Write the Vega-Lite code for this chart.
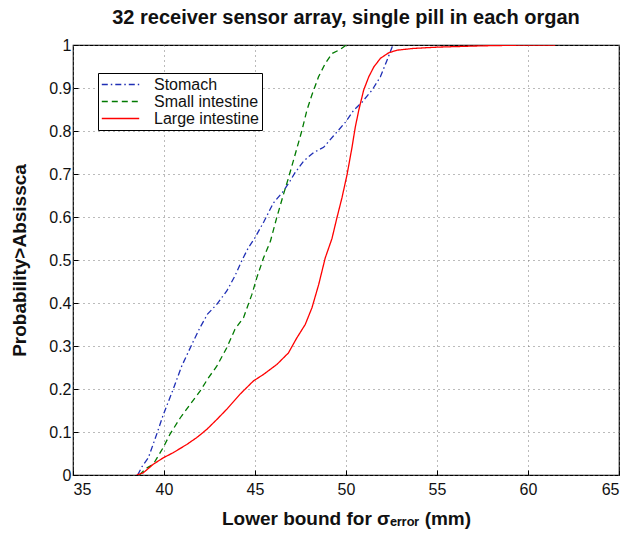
{
  "$schema": "https://vega.github.io/schema/vega-lite/v6.json",
  "autosize": "none",
  "width": 546,
  "height": 430,
  "padding": {"left": 73, "top": 45, "right": 9, "bottom": 59},
  "background": "white",
  "title": {"text": "32 receiver sensor array, single pill in each organ", "font": "Liberation Sans", "fontSize": 20, "fontWeight": "bold", "color": "#111", "offset": 9, "anchor": "middle"},
  "config": {
    "view": {"stroke": "#000", "strokeWidth": 1.2},
    "axis": {
      "labelFont": "Liberation Sans", "labelFontSize": 16, "labelColor": "#111",
      "titleFont": "Liberation Sans", "titleFontSize": 19, "titleFontWeight": "bold", "titleColor": "#111",
      "grid": true, "gridColor": "#777", "gridDash": [1, 4], "gridWidth": 1,
      "domain": false, "tickColor": "#000", "tickSize": -5, "tickWidth": 1, "labelPadding": 7
    }
  },
  "data": {"values": [
    {"s":"Stomach","x":38.55,"y":0},{"s":"Stomach","x":38.8,"y":0.02},{"s":"Stomach","x":39.14,"y":0.04},{"s":"Stomach","x":39.6,"y":0.095},{"s":"Stomach","x":39.96,"y":0.14},{"s":"Stomach","x":40.51,"y":0.2},{"s":"Stomach","x":40.97,"y":0.253},{"s":"Stomach","x":41.6,"y":0.31},{"s":"Stomach","x":41.98,"y":0.343},{"s":"Stomach","x":42.39,"y":0.374},{"s":"Stomach","x":42.9,"y":0.397},{"s":"Stomach","x":43.45,"y":0.428},{"s":"Stomach","x":43.9,"y":0.463},{"s":"Stomach","x":44.27,"y":0.498},{"s":"Stomach","x":44.64,"y":0.529},{"s":"Stomach","x":45.0,"y":0.552},{"s":"Stomach","x":45.5,"y":0.59},{"s":"Stomach","x":46.0,"y":0.632},{"s":"Stomach","x":46.56,"y":0.66},{"s":"Stomach","x":46.93,"y":0.684},{"s":"Stomach","x":47.2,"y":0.703},{"s":"Stomach","x":47.67,"y":0.73},{"s":"Stomach","x":48.22,"y":0.75},{"s":"Stomach","x":48.77,"y":0.762},{"s":"Stomach","x":49.32,"y":0.789},{"s":"Stomach","x":49.96,"y":0.82},{"s":"Stomach","x":50.42,"y":0.848},{"s":"Stomach","x":50.88,"y":0.867},{"s":"Stomach","x":51.43,"y":0.895},{"s":"Stomach","x":51.89,"y":0.926},{"s":"Stomach","x":52.26,"y":0.965},{"s":"Stomach","x":52.54,"y":0.996},{"s":"Stomach","x":52.7,"y":1.0},
    {"s":"Small intestine","x":38.65,"y":0},{"s":"Small intestine","x":39.0,"y":0.015},{"s":"Small intestine","x":39.41,"y":0.025},{"s":"Small intestine","x":39.96,"y":0.064},{"s":"Small intestine","x":40.33,"y":0.095},{"s":"Small intestine","x":40.88,"y":0.132},{"s":"Small intestine","x":41.43,"y":0.164},{"s":"Small intestine","x":41.98,"y":0.195},{"s":"Small intestine","x":42.44,"y":0.226},{"s":"Small intestine","x":42.9,"y":0.253},{"s":"Small intestine","x":43.45,"y":0.296},{"s":"Small intestine","x":43.9,"y":0.339},{"s":"Small intestine","x":44.37,"y":0.366},{"s":"Small intestine","x":44.83,"y":0.42},{"s":"Small intestine","x":45.1,"y":0.459},{"s":"Small intestine","x":45.47,"y":0.505},{"s":"Small intestine","x":45.85,"y":0.544},{"s":"Small intestine","x":46.19,"y":0.598},{"s":"Small intestine","x":46.56,"y":0.652},{"s":"Small intestine","x":46.84,"y":0.691},{"s":"Small intestine","x":47.21,"y":0.746},{"s":"Small intestine","x":47.57,"y":0.8},{"s":"Small intestine","x":47.85,"y":0.848},{"s":"Small intestine","x":48.12,"y":0.883},{"s":"Small intestine","x":48.49,"y":0.926},{"s":"Small intestine","x":48.86,"y":0.957},{"s":"Small intestine","x":49.23,"y":0.98},{"s":"Small intestine","x":49.69,"y":0.99},{"s":"Small intestine","x":50.02,"y":1.0},
    {"s":"Large intestine","x":38.5,"y":0},{"s":"Large intestine","x":38.86,"y":0.005},{"s":"Large intestine","x":39.41,"y":0.025},{"s":"Large intestine","x":39.96,"y":0.04},{"s":"Large intestine","x":40.51,"y":0.052},{"s":"Large intestine","x":41.25,"y":0.071},{"s":"Large intestine","x":41.8,"y":0.087},{"s":"Large intestine","x":42.35,"y":0.106},{"s":"Large intestine","x":42.9,"y":0.129},{"s":"Large intestine","x":43.45,"y":0.153},{"s":"Large intestine","x":44.18,"y":0.188},{"s":"Large intestine","x":44.92,"y":0.219},{"s":"Large intestine","x":45.47,"y":0.234},{"s":"Large intestine","x":46.2,"y":0.257},{"s":"Large intestine","x":46.84,"y":0.284},{"s":"Large intestine","x":47.3,"y":0.319},{"s":"Large intestine","x":47.76,"y":0.35},{"s":"Large intestine","x":48.13,"y":0.389},{"s":"Large intestine","x":48.5,"y":0.443},{"s":"Large intestine","x":48.86,"y":0.505},{"s":"Large intestine","x":49.23,"y":0.55},{"s":"Large intestine","x":49.5,"y":0.598},{"s":"Large intestine","x":49.78,"y":0.645},{"s":"Large intestine","x":50.06,"y":0.699},{"s":"Large intestine","x":50.33,"y":0.762},{"s":"Large intestine","x":50.51,"y":0.809},{"s":"Large intestine","x":50.7,"y":0.848},{"s":"Large intestine","x":50.97,"y":0.895},{"s":"Large intestine","x":51.25,"y":0.926},{"s":"Large intestine","x":51.53,"y":0.949},{"s":"Large intestine","x":51.89,"y":0.969},{"s":"Large intestine","x":52.35,"y":0.982},{"s":"Large intestine","x":52.81,"y":0.988},{"s":"Large intestine","x":53.7,"y":0.992},{"s":"Large intestine","x":55.0,"y":0.995},{"s":"Large intestine","x":57.4,"y":0.998},{"s":"Large intestine","x":60.0,"y":1.0},{"s":"Large intestine","x":61.5,"y":1.0}
  ]},
  "mark": {"type": "line", "strokeWidth": 1.3, "clip": true},
  "encoding": {
    "x": {"field": "x", "type": "quantitative", "scale": {"domain": [35, 65], "nice": false, "zero": false},
      "axis": {"values": [35, 40, 45, 50, 55, 60, 65], "title": "Lower bound for σₑᵣᵣₒᵣ (mm)", "titlePadding": 12, "labelPadding": 11}},
    "y": {"field": "y", "type": "quantitative", "scale": {"domain": [0, 1], "nice": false},
      "axis": {"values": [0, 0.1, 0.2, 0.3, 0.4, 0.5, 0.6, 0.7, 0.8, 0.9, 1], "format": ".1~f", "title": "Probability>Absissca", "titlePadding": 19}},
    "color": {"field": "s", "type": "nominal",
      "scale": {"domain": ["Stomach", "Small intestine", "Large intestine"], "range": ["#1f2fb5", "#007a00", "#ff0000"]},
      "legend": {"title": null, "orient": "none", "legendX": 25, "legendY": 28, "symbolType": "stroke", "symbolSize": 1400, "symbolStrokeWidth": 1.5, "clipHeight": 17,
        "labelFont": "Liberation Sans", "labelFontSize": 16, "labelColor": "#111", "strokeColor": "#000", "fillColor": "#fff", "padding": 3, "rowPadding": 0, "labelOffset": 14, "cornerRadius": 0}},
    "strokeDash": {"field": "s", "type": "nominal",
      "scale": {"domain": ["Stomach", "Small intestine", "Large intestine"], "range": [[6, 3, 1.5, 3], [6, 4], [1, 0]]},
      "legend": null}
  }
}
